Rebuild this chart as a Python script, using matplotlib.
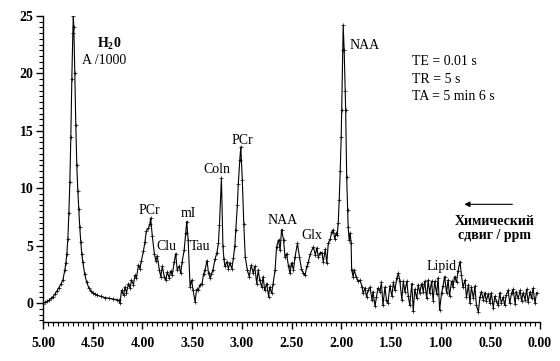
import matplotlib
matplotlib.use("Agg")
import matplotlib.pyplot as plt
from matplotlib.ticker import MultipleLocator, FormatStrFormatter

# chemical shift (ppm) and signal, high -> low ppm
ppm = [
    5.00, 4.98, 4.96, 4.94, 4.92, 4.90, 4.88, 4.86, 4.84, 4.82, 4.80, 4.78,
    4.77, 4.76, 4.75, 4.74, 4.73, 4.72, 4.71, 4.70, 4.695, 4.69, 4.68, 4.67,
    4.66, 4.65, 4.64, 4.63, 4.62, 4.61, 4.60, 4.58, 4.56, 4.54, 4.52, 4.50,
    4.48, 4.46, 4.42, 4.38, 4.34, 4.30, 4.26, 4.24,
    4.225, 4.21, 4.19, 4.175, 4.16, 4.14, 4.125, 4.11, 4.09, 4.075, 4.06,
    4.04, 4.025, 4.01, 3.99, 3.975, 3.96, 3.94, 3.925, 3.917, 3.90, 3.88,
    3.865, 3.85, 3.83, 3.815, 3.80, 3.78, 3.765, 3.75, 3.73, 3.715, 3.70,
    3.68, 3.665, 3.65, 3.63, 3.615, 3.60, 3.58, 3.565, 3.554, 3.54, 3.52,
    3.505, 3.49, 3.47, 3.455, 3.44, 3.42, 3.40, 3.385, 3.37, 3.35, 3.335,
    3.32, 3.305, 3.29, 3.27, 3.25, 3.235, 3.225, 3.205, 3.19, 3.18, 3.17,
    3.15, 3.135, 3.12, 3.10, 3.085, 3.07, 3.06, 3.045, 3.035, 3.02, 3.01,
    2.995, 2.98, 2.965, 2.945, 2.925, 2.905, 2.885, 2.87, 2.85, 2.835, 2.82,
    2.80, 2.785, 2.77, 2.75, 2.73, 2.72, 2.70, 2.685, 2.665, 2.65, 2.63,
    2.615, 2.60, 2.58, 2.565, 2.55, 2.53, 2.515, 2.50, 2.48, 2.465, 2.44,
    2.42, 2.40, 2.38, 2.365, 2.345, 2.33, 2.31, 2.28, 2.26, 2.245, 2.23,
    2.21, 2.195, 2.18, 2.16, 2.145, 2.13, 2.11, 2.095, 2.08, 2.065, 2.05,
    2.04, 2.03, 2.02, 2.01, 2.00, 1.995, 1.985, 1.98, 1.97, 1.96, 1.955,
    1.945, 1.935, 1.93, 1.92, 1.91, 1.90, 1.895, 1.88, 1.87, 1.85, 1.83,
    1.81, 1.79, 1.78, 1.76, 1.745, 1.73, 1.71, 1.69, 1.68, 1.66, 1.645,
    1.63, 1.61, 1.595, 1.58, 1.56, 1.545, 1.53, 1.51, 1.49, 1.475, 1.46,
    1.44, 1.425, 1.41, 1.39, 1.375, 1.36, 1.34, 1.325, 1.31, 1.29, 1.275,
    1.26, 1.24, 1.225, 1.21, 1.19, 1.175, 1.16, 1.14, 1.125, 1.11, 1.09,
    1.075, 1.06, 1.04, 1.025, 1.01, 0.99, 0.975, 0.96, 0.94, 0.925, 0.91,
    0.89, 0.875, 0.86, 0.84, 0.825, 0.805, 0.79, 0.775, 0.755, 0.74, 0.72,
    0.705, 0.69, 0.67, 0.655, 0.64, 0.62, 0.605, 0.59, 0.57, 0.555, 0.54,
    0.52, 0.505, 0.49, 0.47, 0.455, 0.44, 0.42, 0.405, 0.39, 0.37, 0.355,
    0.34, 0.32, 0.305, 0.285, 0.27, 0.25, 0.24, 0.22, 0.20, 0.185, 0.17,
    0.15, 0.135, 0.12, 0.10, 0.085, 0.07, 0.05, 0.035,
]
signal = [
    -0.05, 0.05, 0.15, 0.25, 0.4, 0.55, 0.8, 1.05, 1.35, 1.65, 2.0, 2.9,
    3.5, 4.3, 5.6, 7.8, 10.5, 14.5, 19.5, 23.5, 25.0, 24.0, 20.0, 15.5,
    12.0, 9.8, 8.2, 6.6, 5.3, 4.3, 3.6, 2.5, 1.8, 1.35, 1.05, 0.9,
    0.8, 0.7, 0.58, 0.48, 0.42, 0.36, 0.3, 0.25,
    0.0, 1.1, 0.7, 1.4, 0.9, 1.7, 1.3, 2.0, 1.6, 2.4, 2.2,
    3.3, 3.0, 3.7, 4.5, 5.3, 6.3, 6.5, 6.9, 7.4, 5.8, 4.3,
    3.7, 4.1, 2.9, 2.3, 3.2, 2.3, 2.0, 2.7, 2.2, 2.8, 2.4,
    3.6, 4.3, 2.9, 3.2, 2.6, 3.6, 4.6, 6.1, 7.1, 5.5, 1.4,
    2.0, 1.1, 0.1, 1.2, 1.1, 1.6, 1.7, 2.5, 2.9, 3.7, 2.6,
    2.2, 2.5, 2.9, 3.8, 4.4, 5.2, 6.8, 10.9, 5.0, 3.8, 3.2,
    3.6, 3.0, 3.5, 3.0, 3.9, 5.0, 6.4, 8.5, 10.4, 12.5, 13.6,
    10.7, 6.9, 4.0, 2.9, 2.3, 3.3, 2.6, 3.2, 1.7, 2.9, 2.0,
    1.4, 2.3, 1.1, 1.7, 0.55, 1.4, 0.85, 1.7, 2.9, 4.9, 5.5,
    4.6, 6.4, 5.5, 4.0, 4.3, 3.2, 2.6, 3.5, 2.9, 4.0, 5.2,
    4.0, 3.0, 2.6, 2.4, 3.2, 3.6, 4.3, 4.9, 4.2, 4.8, 4.0,
    4.4, 4.4, 3.6, 4.7, 3.5, 5.2, 5.6, 6.2, 6.4, 5.6, 6.1,
    5.9, 7.0, 9.0, 11.5, 14.5, 16.8, 22.0, 24.2, 22.0, 18.5, 16.8,
    11.0, 8.1, 6.6, 5.5, 6.1, 5.2, 2.9, 2.3, 2.9, 2.3, 1.9,
    2.0, 1.4, 0.85, 1.3, 0.55, 1.1, 1.4, 0.25, 1.0, -0.3, 0.55,
    1.3, 1.0, 1.8, -0.2, 1.4, 0.3, 0.0, 1.5, 0.6, 1.8, 1.1,
    2.2, 2.6, 1.9, 0.3, 1.9, 1.0, 1.9, 0.6, -0.2, 1.7, -0.7,
    1.2, 0.4, 1.6, 0.9, 1.7, 1.0, 1.9, 0.4, 2.0, 0.9, 1.9,
    0.2, 1.9, 0.8, 2.2, -0.6, 0.9, 1.5, 2.3, 0.9, 2.0, 0.6,
    1.9, 1.4, 2.3, 1.8, 2.8, 3.6, 2.4, 1.4, 2.0, 0.5, 1.6,
    0.0, 1.4, 0.4, 1.5, -0.2, -0.8, 0.5, 1.0, 0.3, 0.9, 0.2,
    0.8, 0.0, 0.9, -0.4, 0.6, 0.2, -0.2, 0.9, 0.0, 0.5, -0.2,
    0.7, 1.1, 0.0, 0.9, 1.2, -0.1, 1.0, 0.4, 1.1, 0.2, 0.9,
    0.3, 1.2, 0.1, 1.0, 0.4, 1.3, 0.0, 0.9,
]

peak_names = ["PCr", "Clu", "mI", "Tau", "Coln", "PCr", "NAA", "Glx", "NAA", "Lipid"]
peak_ppm = [3.93, 3.76, 3.54, 3.42, 3.25, 2.99, 2.585, 2.29, 1.76, 0.99]
peak_height = [8.1, 4.9, 7.8, 4.9, 11.6, 14.2, 7.2, 5.9, 22.4, 3.2]
params = ["TE = 0.01 s", "TR = 5 s", "TA = 5 min 6 s"]

plt.rcParams["font.family"] = ["Liberation Serif", "DejaVu Serif"]
plt.rcParams["mathtext.fontset"] = "custom"
plt.rcParams["mathtext.rm"] = "Liberation Serif"
plt.rcParams["mathtext.bf"] = "Liberation Serif:bold"

fig = plt.figure(figsize=(5.6, 3.61), dpi=100)
ax = fig.add_axes([43 / 560, 1 - 322 / 361, 497 / 560, 306 / 361])

ax.plot(ppm, signal, color="black", linewidth=0.8, marker="+",
        markersize=2.2, markeredgewidth=0.5)

ax.set_xlim(5.0, 0.0)
ax.set_ylim(-1.65, 25.0)
for side in ("top", "right"):
    ax.spines[side].set_visible(False)
for side in ("left", "bottom"):
    ax.spines[side].set_linewidth(1.0)

ax.xaxis.set_major_locator(MultipleLocator(0.5))
ax.xaxis.set_minor_locator(MultipleLocator(0.05))
ax.xaxis.set_major_formatter(FormatStrFormatter("%.2f"))
ax.yaxis.set_major_locator(MultipleLocator(5))
ax.yaxis.set_minor_locator(MultipleLocator(0.5))
ax.tick_params(which="major", length=5, width=1, direction="out")
ax.tick_params(which="minor", length=3, width=0.8, direction="out")
ax.tick_params(axis="x", pad=6)
ax.tick_params(axis="y", pad=2)
for lab in ax.get_xticklabels() + ax.get_yticklabels():
    lab.set_fontweight("bold")
    lab.set_fontsize(10)

for name, x, y in zip(peak_names, peak_ppm, peak_height):
    ax.text(x, y, name, ha="center", va="center", fontsize=10)

ax.text(4.33, 22.6, r"$\mathbf{H_20}$", ha="center", va="center", fontsize=10)
ax.text(4.61, 21.1, "A /1000", ha="left", va="center", fontsize=10)

for i, line in enumerate(params):
    ax.text(1.29, 21.0 - 1.5 * i, line, ha="left", va="center", fontsize=10)

ax.annotate("", xy=(0.79, 8.6), xytext=(0.25, 8.6),
            arrowprops=dict(arrowstyle="-|>", color="black", lw=0.8,
                            mutation_scale=8))
ax.text(0.46, 7.1, "Химический", ha="center", va="center", fontsize=10, fontweight="bold")
ax.text(0.46, 5.9, "сдвиг / ppm", ha="center", va="center", fontsize=10, fontweight="bold")

fig.savefig("out.png", dpi=100)
